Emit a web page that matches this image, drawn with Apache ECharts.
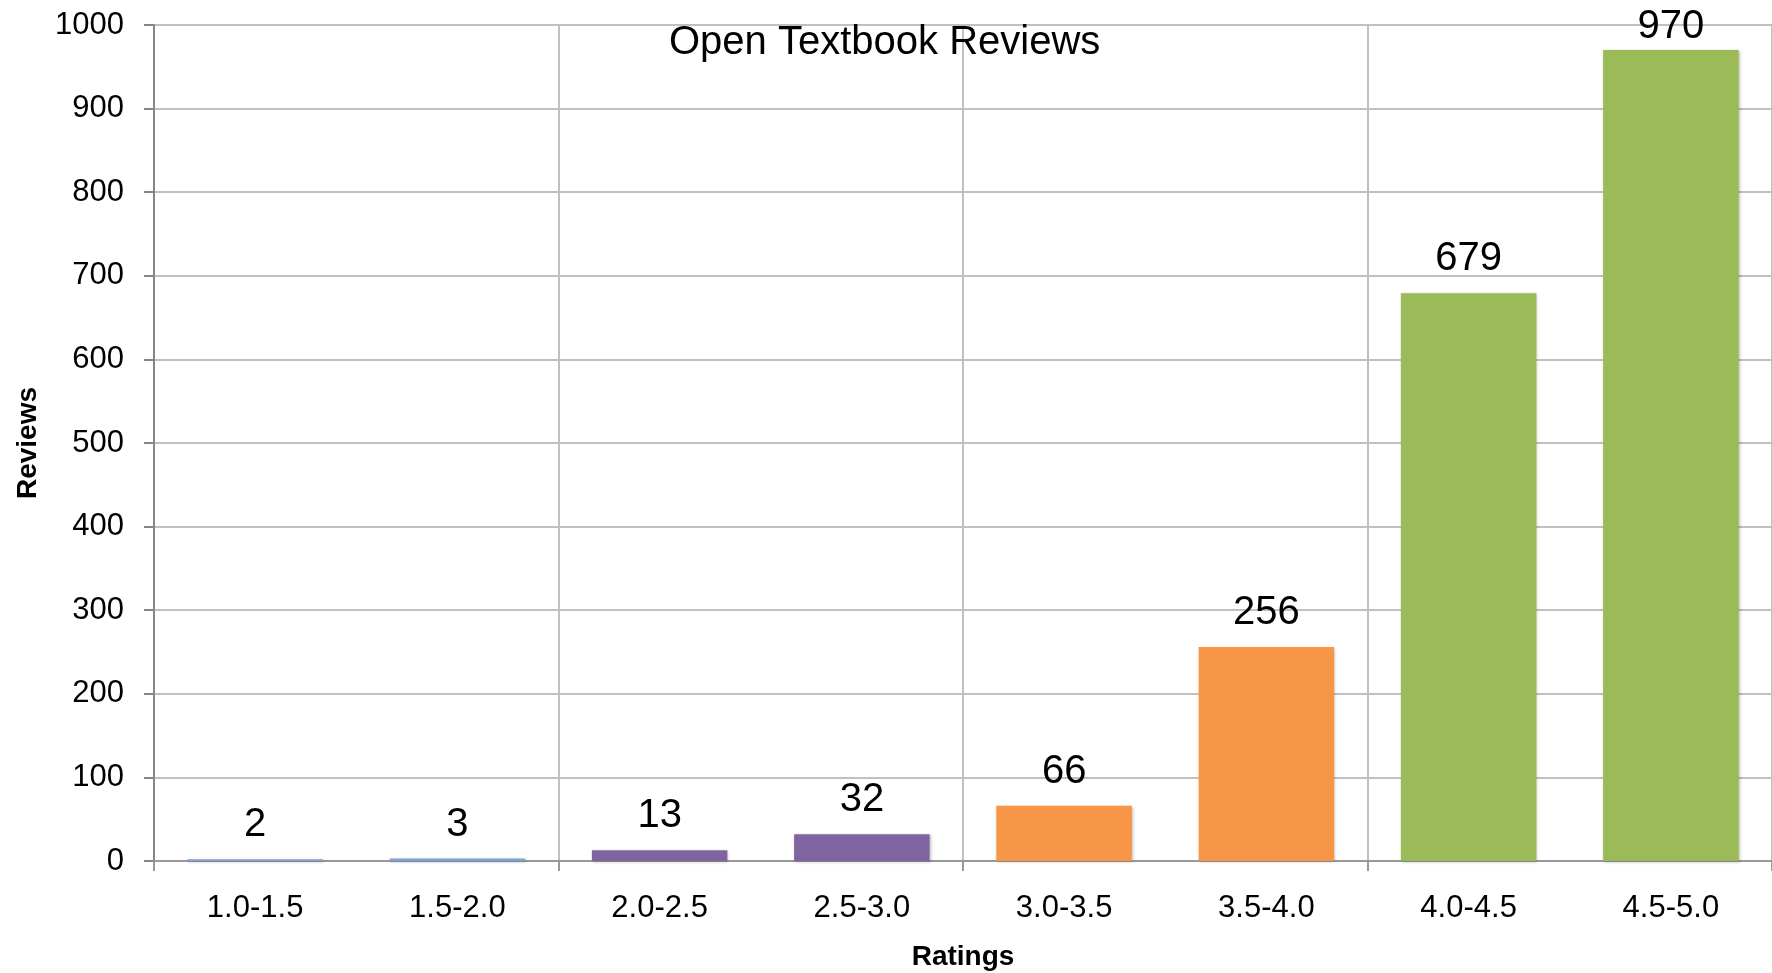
<!DOCTYPE html>
<html>
<head>
<meta charset="utf-8">
<script src="https://cdn.jsdelivr.net/npm/echarts@6/dist/echarts.min.js"></script>
<style>
html,body{margin:0;padding:0;background:#fff;}
#chart{width:1772px;height:973px;}
</style>
</head>
<body>
<div id="chart"></div>
<script>
const categories = ['1.0-1.5','1.5-2.0','2.0-2.5','2.5-3.0','3.0-3.5','3.5-4.0','4.0-4.5','4.5-5.0'];
const reviews = [2, 3, 13, 32, 66, 256, 679, 970];
const yTicks = [0, 100, 200, 300, 400, 500, 600, 700, 800, 900, 1000];
const titleText = 'Open Textbook Reviews';
const xName = 'Ratings';
const yName = 'Reviews';

const barColors = ['#7ca5d8','#7ca5d8','#8064a2','#8064a2','#f79646','#f79646','#9bbb59','#9bbb59'];
const FONT = '"Liberation Sans", Arial, sans-serif';

const chart = echarts.init(document.getElementById('chart'), null, {renderer: 'canvas'});

const data = reviews.map((v, i) => {
  const item = { value: v, itemStyle: { color: barColors[i] } };
  if (v === Math.max(...reviews)) item.label = { distance: 3 };
  return item;
});

const everyOther = (i) => i % 2 === 0 && i < categories.length;

chart.setOption({
  animation: false,
  backgroundColor: '#ffffff',
  title: {
    text: titleText,
    left: 669,
    top: 23,
    padding: 0,
    textStyle: { fontFamily: FONT, fontSize: 40, fontWeight: 'normal', color: '#000' }
  },
  grid: { left: 154, right: 0, top: 25, bottom: 112, containLabel: false, outerBoundsMode: 'none' },
  xAxis: {
    type: 'category',
    data: categories,
    name: xName,
    nameLocation: 'middle',
    nameGap: 82,
    nameTextStyle: { fontFamily: FONT, fontSize: 28, fontWeight: 'bold', color: '#000' },
    axisLine: { show: true, lineStyle: { color: '#999', width: 2 } },
    axisTick: { show: true, interval: everyOther, length: 10, lineStyle: { color: '#999', width: 2 } },
    axisLabel: { interval: 0, margin: 32, fontFamily: FONT, fontSize: 31, color: '#000' },
    splitLine: { show: true, interval: everyOther, lineStyle: { color: '#c0c0c0', width: 2 } }
  },
  yAxis: {
    type: 'value',
    min: yTicks[0],
    max: yTicks[yTicks.length - 1],
    interval: yTicks[1] - yTicks[0],
    name: yName,
    nameLocation: 'middle',
    nameGap: 112,
    nameRotate: 90,
    nameTextStyle: { fontFamily: FONT, fontSize: 28, fontWeight: 'bold', color: '#000' },
    axisLine: { show: true, lineStyle: { color: '#868686', width: 2 } },
    axisTick: { show: true, length: 10, lineStyle: { color: '#868686', width: 2 } },
    axisLabel: { margin: 30, fontFamily: FONT, fontSize: 31, color: '#000', formatter: (v) => String(v) },
    splitLine: { show: true, lineStyle: { color: '#c0c0c0', width: 2 } }
  },
  series: [{
    type: 'bar',
    data: data,
    barWidth: '67%',
    itemStyle: {
      shadowColor: 'rgba(0,0,0,0.25)',
      shadowBlur: 3,
      shadowOffsetX: 1,
      shadowOffsetY: 1
    },
    label: {
      show: true,
      position: 'top',
      distance: 14,
      fontFamily: FONT,
      fontSize: 40,
      color: '#000'
    }
  }]
});
</script>
</body>
</html>
